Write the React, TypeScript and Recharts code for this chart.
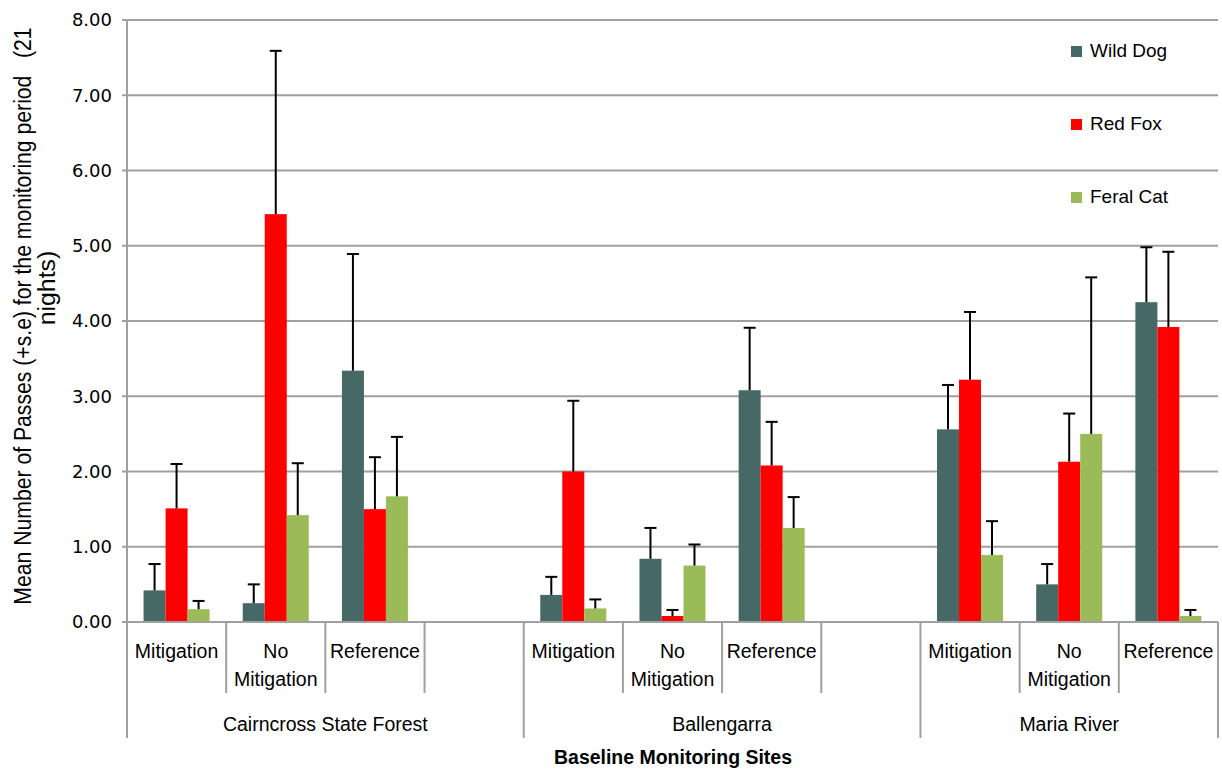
import { BarChart, Bar, XAxis, YAxis, CartesianGrid, Label } from 'recharts'

const SITES = ['Cairncross State Forest', 'Ballengarra', 'Maria River']
const TREATMENTS = ['Mitigation', 'No Mitigation', 'Reference']
const Y_TICKS = [0, 1, 2, 3, 4, 5, 6, 7, 8]

// one value per site x treatment, in SITES then TREATMENTS order
const WILD_DOG = [0.42, 0.25, 3.34, 0.36, 0.84, 3.08, 2.56, 0.5, 4.25]
const WILD_DOG_SE = [0.35, 0.25, 1.55, 0.24, 0.41, 0.83, 0.59, 0.27, 0.73]
const RED_FOX = [1.51, 5.42, 1.5, 2.0, 0.08, 2.08, 3.22, 2.13, 3.92]
const RED_FOX_SE = [0.59, 2.17, 0.69, 0.94, 0.08, 0.58, 0.9, 0.64, 1.0]
const FERAL_CAT = [0.17, 1.42, 1.67, 0.18, 0.75, 1.25, 0.89, 2.5, 0.08]
const FERAL_CAT_SE = [0.11, 0.69, 0.79, 0.12, 0.28, 0.41, 0.45, 2.08, 0.08]

const SERIES = [
  { key: 'dog', err: 'dogErr', name: 'Wild Dog', color: '#476965' },
  { key: 'fox', err: 'foxErr', name: 'Red Fox', color: '#ff0000' },
  { key: 'cat', err: 'catErr', name: 'Feral Cat', color: '#9bbb59' },
]

type Row = {
  label: string
  site: string
  start: boolean
  span: number
  dog?: number
  dogErr?: number
  fox?: number
  foxErr?: number
  cat?: number
  catErr?: number
}

const rows: Row[] = []
SITES.forEach((site, s) => {
  const last = s === SITES.length - 1
  const span = TREATMENTS.length + (last ? 0 : 1)
  TREATMENTS.forEach((t, i) => {
    const k = s * TREATMENTS.length + i
    rows.push({
      label: t,
      site,
      start: i === 0,
      span,
      dog: WILD_DOG[k],
      dogErr: WILD_DOG_SE[k],
      fox: RED_FOX[k],
      foxErr: RED_FOX_SE[k],
      cat: FERAL_CAT[k],
      catErr: FERAL_CAT_SE[k],
    })
  })
  if (!last) rows.push({ label: '', site, start: false, span: 0 })
})

const W = 1222
const H = 771
const PLOT_LEFT = 127
const PLOT_RIGHT = 1218
const BAND = (PLOT_RIGHT - PLOT_LEFT) / rows.length
const GRID = '#a0a0a0'
const FONT = "'Liberation Sans', Arial, sans-serif"

function SiteTick(props: any) {
  const { x, y, payload } = props
  const row = rows[payload.index]
  const left = x - BAND / 2
  const words = row.label ? row.label.split(' ') : []
  const isLast = payload.index === rows.length - 1
  return (
    <g>
      {words.map((w, i) => (
        <text key={i} x={x} y={y + 36 + i * 28} textAnchor="middle" fontSize={19.5} fontFamily={FONT} fill="#000">
          {w}
        </text>
      ))}
      <line x1={left} x2={left} y1={y} y2={y + (row.start ? 116 : 71)} stroke={GRID} strokeWidth={2} />
      {row.start && (
        <text x={left + (row.span * BAND) / 2} y={y + 109} textAnchor="middle" fontSize={19.5} fontFamily={FONT} fill="#000">
          {row.site}
        </text>
      )}
      {isLast && <line x1={x + BAND / 2} x2={x + BAND / 2} y1={y} y2={y + 116} stroke={GRID} strokeWidth={2} />}
    </g>
  )
}

// bar plus an upper-only standard error whisker
function makeShape(key: string, errKey: string) {
  return (props: any) => {
    const { x, y, width, height, fill, payload } = props
    const v = payload[key]
    const e = payload[errKey]
    if (v == null) return <g />
    const ppu = v > 0 ? height / v : 0
    const cx = x + width / 2
    const top = y - e * ppu
    return (
      <g>
        <rect x={x} y={y} width={width} height={height} fill={fill} />
        {e > 0 && (
          <g stroke="#000" strokeWidth={2}>
            <line x1={cx} x2={cx} y1={y} y2={top} />
            <line x1={cx - 6} x2={cx + 6} y1={top} y2={top} />
          </g>
        )}
      </g>
    )
  }
}

// narrow title: regular font squeezed along its length
function YTitle() {
  return (
    <g fontFamily={FONT} fontSize={24} fill="#000">
      <text
        transform="translate(31,316) rotate(-90) scale(0.82,1)"
        textAnchor="middle"
        textLength={704}
        lengthAdjust="spacingAndGlyphs"
        style={{ whiteSpace: 'pre' }}
      >
        {'Mean Number of Passes (+s.e) for the monitoring period   (21'}
      </text>
      <text
        transform="translate(55,288) rotate(-90) scale(0.82,1)"
        textAnchor="middle"
        textLength={91}
        lengthAdjust="spacingAndGlyphs"
      >
        nights)
      </text>
    </g>
  )
}

export default function App() {
  return (
    <div style={{ position: 'absolute', left: 0, top: 0, width: W, height: H, background: '#fff' }}>
      <BarChart
        width={W}
        height={H}
        data={rows}
        margin={{ top: 20, right: W - PLOT_RIGHT, bottom: 0, left: 0 }}
        barCategoryGap="16.7%"
        barGap={0}
      >
        <CartesianGrid vertical={false} stroke={GRID} strokeWidth={2} />
        <XAxis
          dataKey="label"
          interval={0}
          tickLine={false}
          tickSize={0}
          tickMargin={0}
          height={H - 622}
          axisLine={{ stroke: GRID, strokeWidth: 2 }}
          tick={<SiteTick />}
        >
          <Label
            content={() => (
              <text
                x={673}
                y={764}
                textAnchor="middle"
                fontFamily={FONT}
                fontWeight="bold"
                fontSize={20}
                fill="#000"
                textLength={238}
                lengthAdjust="spacingAndGlyphs"
              >
                Baseline Monitoring Sites
              </text>
            )}
          />
        </XAxis>
        <YAxis
          width={PLOT_LEFT}
          domain={[0, 8]}
          ticks={Y_TICKS}
          interval={0}
          tickFormatter={(v: number) => v.toFixed(2)}
          tick={{ fill: '#000', fontSize: 18, fontFamily: "'DejaVu Sans', sans-serif" }}
          tickSize={5}
          tickMargin={10}
          axisLine={{ stroke: GRID, strokeWidth: 2 }}
          tickLine={{ stroke: GRID, strokeWidth: 2 }}
        >
          <Label content={() => <YTitle />} />
        </YAxis>
        {SERIES.map((s) => (
          <Bar
            key={s.key}
            dataKey={s.key}
            name={s.name}
            fill={s.color}
            isAnimationActive={false}
            shape={makeShape(s.key, s.err)}
          />
        ))}
      </BarChart>
      <div style={{ position: 'absolute', left: 1071, top: 37, fontFamily: FONT, fontSize: 19, color: '#000' }}>
        {SERIES.map((s) => (
          <div key={s.key} style={{ display: 'flex', alignItems: 'center', height: 28, marginBottom: 45 }}>
            <span style={{ width: 11, height: 11, background: s.color, marginRight: 8 }} />
            <span>{s.name}</span>
          </div>
        ))}
      </div>
    </div>
  )
}
